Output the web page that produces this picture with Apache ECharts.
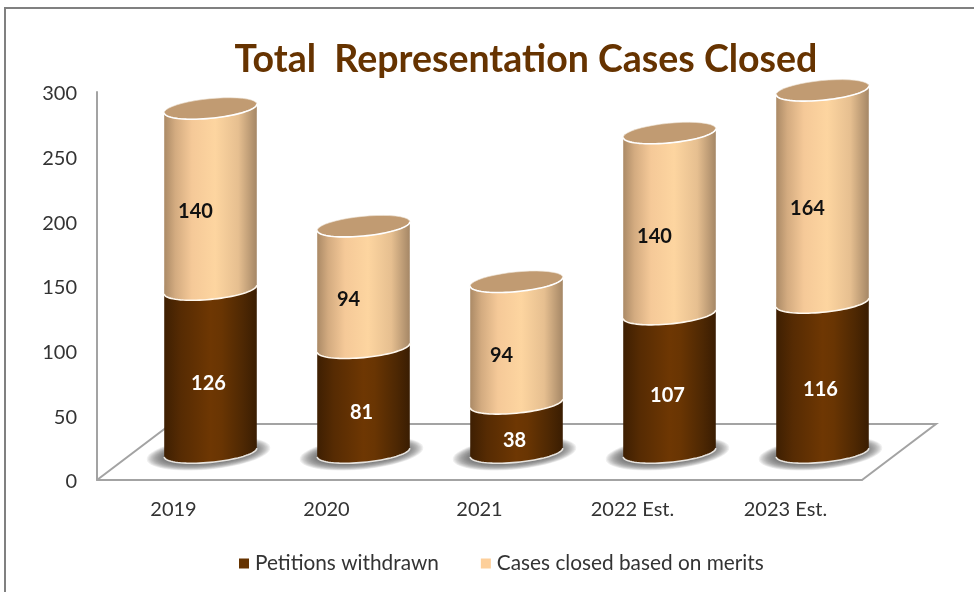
<!DOCTYPE html>
<html>
<head>
<meta charset="utf-8">
<style>html,body{margin:0;padding:0;background:#fff}#c{width:974px;height:592px}</style>
<script src="https://cdn.jsdelivr.net/npm/echarts@6/dist/echarts.min.js"></script>
</head>
<body>
<div id="c"></div>
<script>
var categories = ['2019', '2020', '2021', '2022 Est.', '2023 Est.'];
var petitionsWithdrawn = [126, 81, 38, 107, 116];
var casesClosedOnMerits = [140, 94, 94, 140, 164];
var seriesNames = ['Petitions withdrawn', 'Cases closed based on merits'];
var titleText = 'Total  Representation Cases Closed';

var FONT = 'Lato';
var DX = 37, DY = -27.5, RX = 46.5, RY = 9.8, PHI = 5.6 * Math.PI / 180;

function pt(cx, cy, t, a, b) {
  a = a || RX; b = b || RY;
  return [cx + a * Math.cos(t) * Math.cos(PHI) + b * Math.sin(t) * Math.sin(PHI),
          cy - a * Math.cos(t) * Math.sin(PHI) + b * Math.sin(t) * Math.cos(PHI)];
}
var T0 = Math.atan2(RY * Math.sin(PHI), RX * Math.cos(PHI));
function arc(cx, cy, from, to) {
  var out = [], n = 40;
  for (var i = 0; i <= n; i++) out.push(pt(cx, cy, from + (to - from) * i / n));
  return out;
}
function grad(stops) {
  return new echarts.graphic.LinearGradient(0, 0, 1, 0, stops.map(function (s) { return { offset: s[0], color: s[1] }; }));
}
var brownFill = [[0, '#3e1f02'], [0.18, '#562b03'], [0.5, '#6e3703'], [0.62, '#693503'], [0.85, '#4e2803'], [1, '#3a1d02']];
var peachFill = [[0, '#ab8a66'], [0.12, '#d3ab80'], [0.3, '#f5c998'], [0.55, '#fdd5a0'], [0.8, '#e6bf90'], [1, '#a58766']];

function makeRender(fillStops, isTop, labelColor, labelDx) {
  return function (params, api) {
    var base = api.coord([api.value(0), api.value(1)]);
    var top = api.coord([api.value(0), api.value(2)]);
    var cx = base[0] + DX, by = base[1] + DY, ty = top[1] + DY;
    var front = arc(cx, by, T0, T0 + Math.PI);
    var body = front.concat([pt(cx, ty, T0 + Math.PI), pt(cx, ty, T0)]);
    var kids = [];
    if (!isTop) {
      var layers = 14;
      for (var k = 0; k < layers; k++) {
        var f = k / (layers - 1), shadow = [];
        for (var i = 0; i < 60; i++) shadow.push(pt(cx - 2, by + 1, i / 60 * 2 * Math.PI, 62 - 16 * f, 16 - 6 * f));
        kids.push({ type: 'polygon', shape: { points: shadow }, style: { fill: 'rgba(100,100,100,0.1)' } });
      }
    }
    kids.push({ type: 'polygon', shape: { points: body }, style: { fill: grad(fillStops) } });
    kids.push({ type: 'polyline', shape: { points: front }, style: { fill: 'none', stroke: isTop ? '#fff8ee' : '#e8e4df', lineWidth: 1.6 } });
    if (isTop) {
      var cap = arc(cx, ty, 0, 2 * Math.PI);
      kids.push({ type: 'polygon', shape: { points: cap }, style: { fill: '#c19b72', stroke: '#efe4d6', lineWidth: 0.6 } });
      kids.push({ type: 'polyline', shape: { points: arc(cx, ty, T0, T0 + Math.PI) }, style: { fill: 'none', stroke: '#ffffff', lineWidth: 1.6 } });
    }
    kids.push({ type: 'text', style: {
      text: String(api.value(2) - api.value(1)), x: cx + labelDx, y: (by + ty) / 2 + 12.5,
      fill: labelColor, font: 'bold 20px ' + FONT, align: 'center', verticalAlign: 'middle' } });
    return { type: 'group', children: kids };
  };
}

var lowerData = categories.map(function (c, i) { return [i, 0, petitionsWithdrawn[i]]; });
var upperData = categories.map(function (c, i) { return [i, petitionsWithdrawn[i], petitionsWithdrawn[i] + casesClosedOnMerits[i]]; });

var axisStroke = { color: '#a3a3a3', width: 2 };
var chart = echarts.init(document.getElementById('c'), null, { renderer: 'canvas' });
chart.setOption({
  animation: false,
  backgroundColor: '#ffffff',
  title: {
    text: titleText, left: 521, top: 36, textAlign: 'center',
    textStyle: { color: '#663300', fontFamily: FONT, fontWeight: 'bold', fontSize: 37.5 }
  },
  legend: {
    left: 234, top: 548, itemWidth: 10, itemHeight: 10, itemGap: 42, icon: 'rect',
    data: [
      { name: seriesNames[0], itemStyle: { color: '#663300' } },
      { name: seriesNames[1], itemStyle: { color: '#fdcf9a' } }
    ],
    textStyle: { color: '#333333', fontFamily: FONT, fontSize: 20.8, padding: [0, 0, 0, 1] }
  },
  grid: { left: 97, top: 92, width: 765, height: 388 },
  xAxis: {
    type: 'category', data: categories,
    axisLine: { lineStyle: axisStroke }, axisTick: { show: false },
    axisLabel: { color: '#333333', fontFamily: FONT, fontSize: 20, margin: 20 }
  },
  yAxis: {
    type: 'value', min: 0, max: 300, interval: 50,
    axisLine: { show: true, lineStyle: axisStroke }, axisTick: { show: false }, splitLine: { show: false },
    axisLabel: { color: '#333333', fontFamily: FONT, fontSize: 20, margin: 20, verticalAlign: 'top', lineHeight: 4 }
  },
  graphic: [
    { type: 'polyline', z: 0, shape: { points: [[97, 480], [171, 424], [936, 424], [862, 480]] }, style: { fill: 'none', stroke: '#a3a3a3', lineWidth: 2 } },
    { type: 'polyline', z: 0, shape: { points: [[5, 592], [5, 8], [974, 8]] }, style: { fill: 'none', stroke: '#808080', lineWidth: 2 } }
  ],
  series: [
    { type: 'custom', name: seriesNames[0], coordinateSystem: 'cartesian2d', z: 3, clip: false,
      encode: { x: 0, y: [1, 2] }, data: lowerData, itemStyle: { color: '#663300' },
      renderItem: makeRender(brownFill, false, '#ffffff', -2) },
    { type: 'custom', name: seriesNames[1], coordinateSystem: 'cartesian2d', z: 4, clip: false,
      encode: { x: 0, y: [1, 2] }, data: upperData, itemStyle: { color: '#fdcf9a' },
      renderItem: makeRender(peachFill, true, '#111111', -15) }
  ]
});
</script>
</body>
</html>
